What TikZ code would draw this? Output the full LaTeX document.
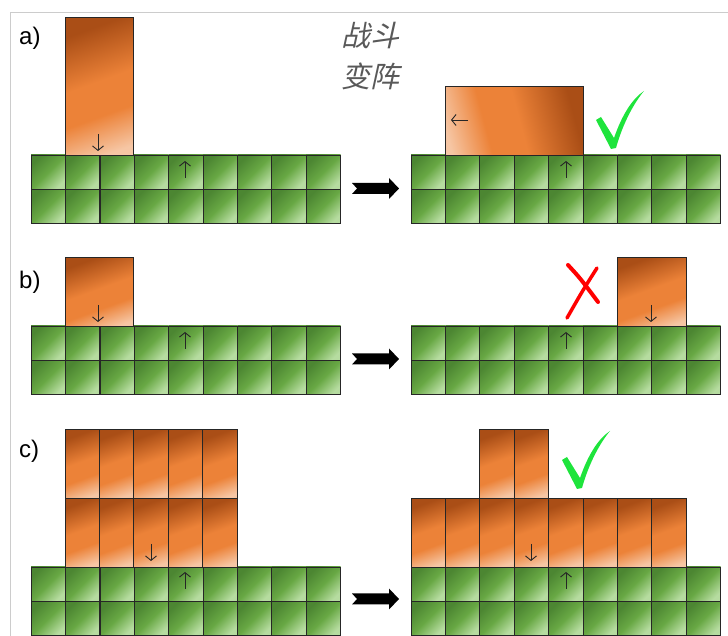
\documentclass[tikz,border=0pt]{standalone}
\usepackage{fontspec}
\setsansfont{Liberation Sans}
\newfontfamily\cjk[FakeSlant=0.22]{Noto Sans CJK SC}
\usetikzlibrary{arrows.meta}
\usepackage{xcolor}
\definecolor{gdark}{RGB}{76,134,50}
\definecolor{gmid}{RGB}{104,168,68}
\definecolor{glight}{RGB}{182,220,160}
\definecolor{odark}{RGB}{170,78,22}
\definecolor{omid}{RGB}{236,130,56}
\definecolor{olight}{RGB}{246,198,164}
\definecolor{okgreen}{RGB}{30,228,60}
\pgfdeclarehorizontalshading{oresh}{100bp}{color(0bp)=(odark); color(26bp)=(odark);
  color(48bp)=(omid); color(62bp)=(omid); color(78bp)=(olight); color(100bp)=(olight)}

\tikzset{
  grass/.style={draw=black!85, line width=0.8pt, top color=gdark, bottom color=glight,
    middle color=gmid, shading angle=45},
  ore/.style={draw=black!85, line width=0.8pt, shading=oresh, shading angle=-70},
  facing/.style={-{Straight Barb[length=4.5pt,width=11pt]}, line width=0.9pt, black!85},
  seam/.style={line width=1.8pt, black!85},
  panel/.style={font=\sffamily\fontsize{24}{24}\selectfont, anchor=base west, inner sep=0pt},
  title/.style={font=\cjk\fontsize{29}{41}\selectfont, align=left, black!65, inner sep=0pt},
}
% 9x2 field of cells, top left corner at (#1,#2)
\newcommand\grassrow[2]{\foreach \i in {0,...,8}{\foreach \j in {0,1}{%
  \path[grass] ({#1+\i*34.4},{#2-\j*34.4}) rectangle ++(34.4,-34.4);}}}
\newcommand\bigarrow[1]{\fill (352,{#1-5.5}) -- (389,{#1-5.5}) -- (389,{#1-10.5}) -- (399,#1)
  -- (389,{#1+10.5}) -- (389,{#1+5.5}) -- (352,{#1+5.5}) -- (357,#1) -- cycle;}
\newcommand\tickmark[1]{\fill[okgreen, shift={#1}] (-17,27) -- (-12,30) -- (1,9)
  .. controls (9,32) and (19,48) .. (31,56) .. controls (21,44) and (10,24) .. (3,-1)
  -- (-2,-2) -- cycle;}

\begin{document}
\begin{tikzpicture}[x=1pt,y=1pt]
\useasboundingbox (0,0) rectangle (728,636);
\draw[black!20] (10,0) -- (10,624) -- (728,624);
\node[title, anchor=north west] (title) at (341,614) {战斗\\变阵};

% a)
\node[panel] (lbla) at (19,591) {a)};
\grassrow{31}{481}
\draw[seam] (99.8,481) -- (99.8,412.2);
\draw[ore] (65,618.6) rectangle ++(68.8,-137.6);
\draw[facing] (98,502) -- (98,485);
\draw[facing] (185,458) -- (185,475);
\bigarrow{447.5}
\grassrow{411}{481}
\draw[ore, shading angle=-165] (445.4,549.8) rectangle ++(137.6,-68.8);
\draw[facing] (468,516) -- (451,516);
\draw[facing] (566,458) -- (566,475);
\tickmark{(613,489)}

% b)
\node[panel] (lblb) at (19,347) {b)};
\grassrow{31}{310}
\draw[seam] (99.8,310) -- (99.8,241.2);
\draw[ore] (65,378.8) rectangle ++(68.8,-68.8);
\draw[facing] (98,331) -- (98,314);
\draw[facing] (185,287) -- (185,304);
\bigarrow{277}
\grassrow{411}{310}
\draw[seam] (445.4,310) -- (445.4,241.2);
\draw[ore] (617.4,378.8) rectangle ++(68.8,-68.8);
\draw[facing] (651,331) -- (651,314);
\draw[facing] (566,287) -- (566,304);
\draw[red, line width=4pt, line cap=round] (568,371) .. controls (580,358) .. (598,334);
\draw[red, line width=3.5pt, line cap=round] (597,368) .. controls (583,346) .. (567,318);

% c)
\node[panel] (lblc) at (19,178) {c)};
\grassrow{31}{69}
\draw[seam] (99.8,69) -- (99.8,0);
\foreach \i in {0,...,4}{
  \draw[ore] ({65+\i*34.4},206.6) rectangle ++(34.4,-68.8);
  \draw[ore] ({65+\i*34.4},137.8) rectangle ++(34.4,-68.8);
}
\draw[facing] (151,92) -- (151,75);
\draw[facing] (185,47) -- (185,64);
\bigarrow{37}
\grassrow{411}{69}
\draw[seam] (445.4,69) -- (445.4,0);
\foreach \i in {0,...,7}
  \draw[ore] ({411+\i*34.4},137.8) rectangle ++(34.4,-68.8);
\foreach \i in {2,3}
  \draw[ore] ({411+\i*34.4},206.6) rectangle ++(34.4,-68.8);
\draw[facing] (531,92) -- (531,75);
\draw[facing] (566,47) -- (566,64);
\tickmark{(579,149)}
\end{tikzpicture}
\end{document}
